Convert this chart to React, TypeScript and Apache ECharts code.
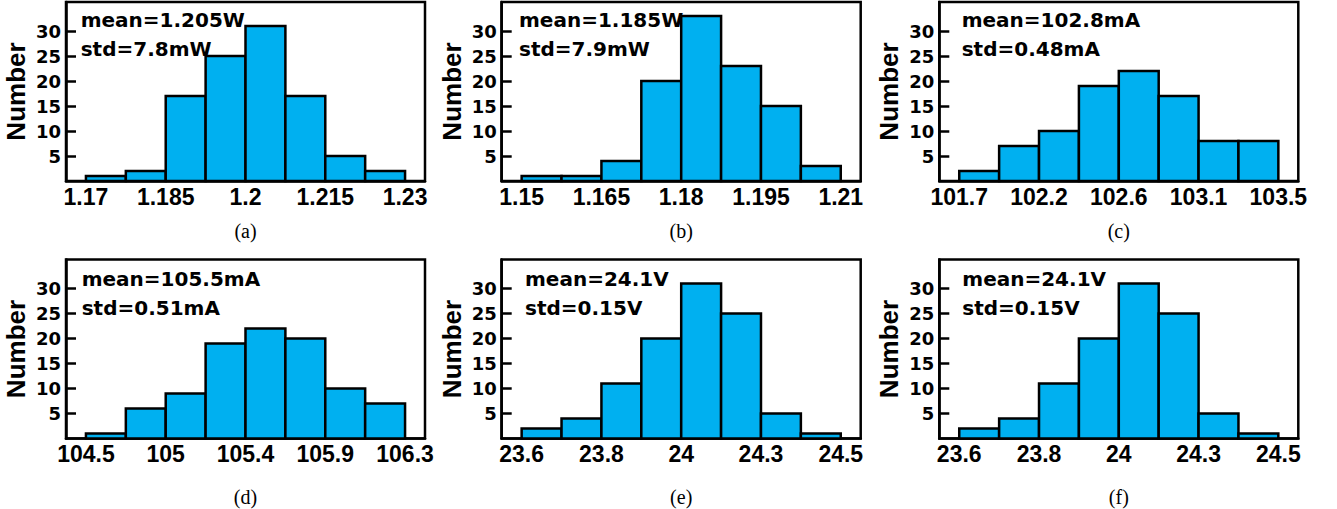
import React, { useEffect, useRef } from 'react';
import * as echarts from 'echarts';

// ---- data ----
const aEdges = [1.17, 1.1775, 1.185, 1.1925, 1.2, 1.2075, 1.215, 1.2225, 1.23];
const aCounts = [1, 2, 17, 25, 31, 17, 5, 2];
const aTickValues = [1.17, 1.185, 1.2, 1.215, 1.23];
const aTickLabels = ['1.17', '1.185', '1.2', '1.215', '1.23'];
const aStats = ['mean=1.205W', 'std=7.8mW'];

const bEdges = [1.15, 1.1575, 1.165, 1.1725, 1.18, 1.1875, 1.195, 1.2025, 1.21];
const bCounts = [1, 1, 4, 20, 33, 23, 15, 3];
const bTickValues = [1.15, 1.165, 1.18, 1.195, 1.21];
const bTickLabels = ['1.15', '1.165', '1.18', '1.195', '1.21'];
const bStats = ['mean=1.185W', 'std=7.9mW'];

const cEdges = [101.7, 101.925, 102.15, 102.375, 102.6, 102.825, 103.05, 103.275, 103.5];
const cCounts = [2, 7, 10, 19, 22, 17, 8, 8];
const cTickValues = [101.7, 102.15, 102.6, 103.05, 103.5];
const cTickLabels = ['101.7', '102.2', '102.6', '103.1', '103.5'];
const cStats = ['mean=102.8mA', 'std=0.48mA'];

const dEdges = [104.5, 104.725, 104.95, 105.175, 105.4, 105.625, 105.85, 106.075, 106.3];
const dCounts = [1, 6, 9, 19, 22, 20, 10, 7];
const dTickValues = [104.5, 104.95, 105.4, 105.85, 106.3];
const dTickLabels = ['104.5', '105', '105.4', '105.9', '106.3'];
const dStats = ['mean=105.5mA', 'std=0.51mA'];

const eEdges = [23.6, 23.7125, 23.825, 23.9375, 24.05, 24.1625, 24.275, 24.3875, 24.5];
const eCounts = [2, 4, 11, 20, 31, 25, 5, 1];
const eTickValues = [23.6, 23.825, 24.05, 24.275, 24.5];
const eTickLabels = ['23.6', '23.8', '24', '24.3', '24.5'];
const eStats = ['mean=24.1V', 'std=0.15V'];

const fEdges = [23.6, 23.7125, 23.825, 23.9375, 24.05, 24.1625, 24.275, 24.3875, 24.5];
const fCounts = [2, 4, 11, 20, 31, 25, 5, 1];
const fTickValues = [23.6, 23.825, 24.05, 24.275, 24.5];
const fTickLabels = ['23.6', '23.8', '24', '24.3', '24.5'];
const fStats = ['mean=24.1V', 'std=0.15V'];

const captions = ['(a)', '(b)', '(c)', '(d)', '(e)', '(f)'];
const yTickValues = [5, 10, 15, 20, 25, 30];
const yName = 'Number';

const panels = [
  { edges: aEdges, counts: aCounts, tickValues: aTickValues, tickLabels: aTickLabels, stats: aStats },
  { edges: bEdges, counts: bCounts, tickValues: bTickValues, tickLabels: bTickLabels, stats: bStats },
  { edges: cEdges, counts: cCounts, tickValues: cTickValues, tickLabels: cTickLabels, stats: cStats },
  { edges: dEdges, counts: dCounts, tickValues: dTickValues, tickLabels: dTickLabels, stats: dStats },
  { edges: eEdges, counts: eCounts, tickValues: eTickValues, tickLabels: eTickLabels, stats: eStats },
  { edges: fEdges, counts: fCounts, tickValues: fTickValues, tickLabels: fTickLabels, stats: fStats },
];

// ---- layout ----
const LEFTS = [66, 501.7, 939.3];
const GRID_W = 359;
const TOPS = [2, 259.5];
const GRID_H = 179;
const Y_MAX = 35.8;
const CAPTION_GAPS = [40, 48];
const STAT_DX = [15.7, 18.3, 23.4, 16.7, 24.3, 24];
const STAT_Y = [[19.7, 48.9], [279, 308]];
const BAR_COLOR = '#00B0F0';

export default function App() {
  const ref = useRef<HTMLDivElement>(null);

  useEffect(() => {
    document.body.style.margin = '0';
    if (!ref.current) return;
    const chart = echarts.init(ref.current, undefined, { renderer: 'svg' });

    const grids: any[] = [];
    const xAxes: any[] = [];
    const yAxes: any[] = [];
    const series: any[] = [];
    const graphics: any[] = [];

    panels.forEach((p, i) => {
      const row = Math.floor(i / 3);
      const col = i % 3;
      const left = LEFTS[col];
      const top = TOPS[row];
      const bw = p.edges[1] - p.edges[0];
      grids.push({
        left, top, width: GRID_W, height: GRID_H,
        show: true, borderColor: '#000', borderWidth: 2.5, backgroundColor: 'transparent',
        containLabel: false, outerBoundsMode: 'none',
      });
      xAxes.push({
        type: 'value', gridIndex: i,
        min: p.edges[0] - bw / 2, max: p.edges[p.edges.length - 1] + bw / 2,
        splitLine: { show: false },
        axisLine: { show: true, lineStyle: { color: '#000', width: 2.5 } },
        axisTick: { show: false },
        axisLabel: {
          customValues: p.tickValues,
          formatter: (v: number) => {
            const k = p.tickValues.findIndex((t) => Math.abs(t - v) < 1e-7);
            return k >= 0 ? p.tickLabels[k] : '';
          },
          fontFamily: 'Liberation Sans', fontWeight: 'bold', fontSize: 23, color: '#000', margin: 4,
        },
        name: captions[i], nameLocation: 'middle', nameGap: CAPTION_GAPS[row],
        nameTextStyle: { fontFamily: 'Liberation Serif', fontSize: 20, color: '#000', fontWeight: 'normal' },
      });
      yAxes.push({
        type: 'value', gridIndex: i, min: 0, max: Y_MAX,
        splitLine: { show: false },
        axisLine: { show: true, lineStyle: { color: '#000', width: 2.5 } },
        axisTick: { show: true, inside: true, length: 10, customValues: yTickValues, lineStyle: { color: '#000', width: 2.5 } },
        axisLabel: {
          customValues: yTickValues,
          fontFamily: 'DejaVu Sans', fontWeight: 'bold', fontSize: 18, color: '#000', margin: 5,
        },
        name: yName, nameLocation: 'middle', nameGap: 37, nameMoveOverlap: false,
        nameTextStyle: { fontFamily: 'Liberation Sans', fontWeight: 'bold', fontSize: 26, color: '#000' },
      });
      series.push({
        type: 'custom', coordinateSystem: 'cartesian2d', xAxisIndex: i, yAxisIndex: i,
        data: p.counts.map((c, k) => [p.edges[k], p.edges[k + 1], c]),
        encode: { x: [0, 1], y: 2 },
        clip: false,
        renderItem: (_params: any, api: any) => {
          const p0 = api.coord([api.value(0), api.value(2)]);
          const p1 = api.coord([api.value(1), 0]);
          return {
            type: 'rect',
            shape: { x: p0[0], y: p0[1], width: p1[0] - p0[0], height: p1[1] - p0[1] },
            style: { fill: BAR_COLOR, stroke: '#000', lineWidth: 2.5 },
          };
        },
      });
      p.stats.forEach((s, k) => {
        graphics.push({
          type: 'text', z: 100,
          x: left + STAT_DX[i] - 1, y: STAT_Y[row][k],
          style: {
            text: s, fill: '#000', font: 'bold 20px "DejaVu Sans"',
            textAlign: 'left', textVerticalAlign: 'middle',
          },
        });
      });
    });

    chart.setOption({
      animation: false,
      backgroundColor: '#fff',
      grid: grids,
      xAxis: xAxes,
      yAxis: yAxes,
      series,
      graphic: graphics,
    });

    return () => chart.dispose();
  }, []);

  return <div ref={ref} style={{ width: 1337, height: 509 }} />;
}
